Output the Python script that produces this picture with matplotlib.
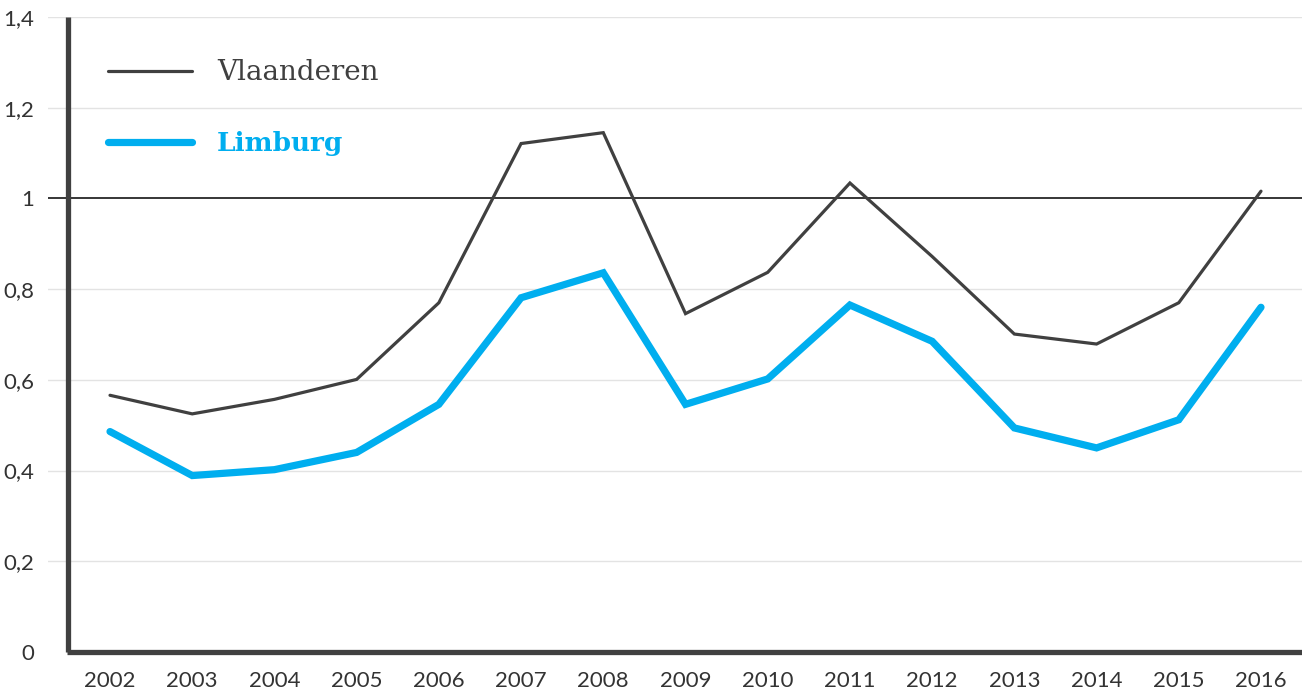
import matplotlib
matplotlib.use("Agg")
import matplotlib.pyplot as plt
from matplotlib.ticker import FuncFormatter

years = [2002, 2003, 2004, 2005, 2006, 2007, 2008, 2009, 2010, 2011, 2012, 2013, 2014, 2015, 2016]
vlaanderen = [0.566, 0.525, 0.557, 0.601, 0.770, 1.121, 1.145, 0.746, 0.837, 1.034, 0.872, 0.701, 0.679, 0.770, 1.016]
limburg = [0.486, 0.389, 0.402, 0.440, 0.546, 0.781, 0.836, 0.546, 0.602, 0.765, 0.685, 0.494, 0.450, 0.512, 0.760]
yticks = [0, 0.2, 0.4, 0.6, 0.8, 1.0, 1.2, 1.4]
series_names = ["Vlaanderen", "Limburg"]

W, H = 1302, 691
fig = plt.figure(figsize=(W / 100, H / 100), dpi=100)
ax = fig.add_axes([48 / W, (H - 652) / H, (1302 - 48) / W, (652 - 17) / H])

dark = "#404040"
blue = "#00AEEF"

x0 = 2002 - 62 / 82.2
x1 = 2016 + 41 / 82.2
xspine = 2002 - 42 / 82.2
ax.set_xlim(x0, x1)
ax.set_ylim(0, 1.4)

for s in ax.spines.values():
    s.set_visible(False)

for t in yticks:
    if t == 1.0:
        ax.axhline(t, color="black", lw=1.1, zorder=2)
    elif t > 0:
        ax.axhline(t, color="#e3e3e3", lw=1.0, zorder=1)

ax.plot(years, vlaanderen, color=dark, lw=2.3, zorder=4, solid_capstyle="round", solid_joinstyle="miter")
ax.plot(years, limburg, color=blue, lw=5.2, zorder=5, solid_capstyle="round", solid_joinstyle="miter")

# axis spines (custom)
ax.plot([xspine, xspine], [0, 1.4], color=dark, lw=3.8, zorder=6, solid_capstyle="butt", clip_on=False)
ax.plot([xspine - 0.012, x1], [0, 0], color=dark, lw=3.8, zorder=6, solid_capstyle="butt", clip_on=False)

ax.set_yticks(yticks)
ax.yaxis.set_major_formatter(FuncFormatter(lambda v, p: ("%g" % round(v, 1)).replace(".", ",")))
ax.set_xticks(years)
ax.set_xticklabels([str(y) for y in years])
ax.tick_params(axis="both", length=0, labelsize=16, labelcolor="#333333")
ax.tick_params(axis="y", pad=10)
ax.tick_params(axis="x", pad=14)
for lab in ax.get_xticklabels() + ax.get_yticklabels():
    lab.set_fontfamily("Lato")

# legend
def px2data(px, py):
    inv = ax.transData.inverted()
    return inv.transform((px, H - py))

fig.canvas.draw()
a = px2data(108, 71); b = px2data(192, 71)
ax.plot([a[0], b[0]], [a[1], b[1]], color=dark, lw=2.3, solid_capstyle="round", zorder=7)
t = px2data(217, 73)
ax.text(t[0], t[1], series_names[0], color=dark, fontsize=20, family="DejaVu Serif", va="center", ha="left")
a = px2data(108, 142); b = px2data(192, 142)
ax.plot([a[0], b[0]], [a[1], b[1]], color=blue, lw=5.2, solid_capstyle="round", zorder=7)
t = px2data(217, 144)
ax.text(t[0], t[1], series_names[1], color=blue, fontsize=19, family="DejaVu Serif", fontweight="bold", va="center", ha="left")

fig.savefig("out.png", dpi=100)
